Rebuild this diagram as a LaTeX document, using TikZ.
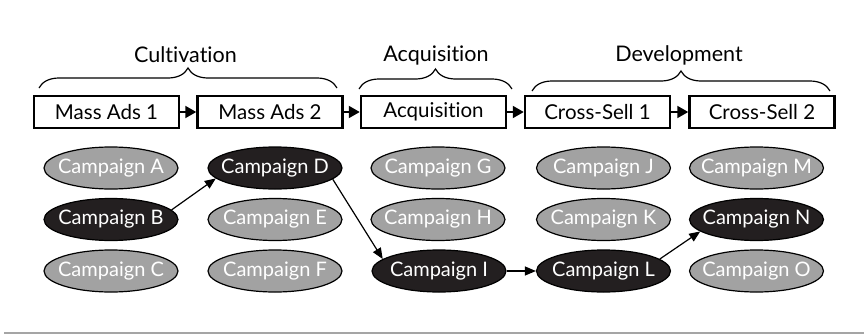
\documentclass[tikz,border=0pt]{standalone}
\usepackage{fontspec}
\setmainfont{Lato}[Ligatures=CommonOff]
\usetikzlibrary{arrows.meta,decorations.pathreplacing,shapes.geometric}

\definecolor{campgray}{HTML}{A2A2A2}
\definecolor{campdark}{HTML}{231F20}
\definecolor{rulegray}{HTML}{A5A5A5}

\tikzset{
  stagebox/.style={draw=black, line width=2.5pt, fill=white,
    minimum width=145pt, minimum height=32pt, inner sep=0pt,
    font=\fontsize{20.5}{25}\selectfont},
  camp/.style={ellipse, draw=black, line width=1.2pt,
    minimum width=134pt, minimum height=42pt,
    inner xsep=-20pt, inner ysep=0pt, text=white,
    font=\fontsize{20}{24}\selectfont},
  idle/.style={camp, fill=campgray},
  chosen/.style={camp, fill=campdark},
  phase/.style={font=\fontsize{21.5}{26}\selectfont},
  phasebrace/.style={decorate, decoration={brace, amplitude=20pt}, line width=1.2pt},
  stagearrow/.style={line width=2pt, -{Triangle[length=11pt, width=12pt]}},
  patharrow/.style={line width=1.2pt, -{Triangle[length=11pt, width=9pt]}}
}

\begin{document}
\begin{tikzpicture}[x=1pt, y=-1pt]
  \useasboundingbox (0,0) rectangle (868,335);

  % phase labels and braces
  \node[phase] (lcult) at (185.5,55) {Cultivation};
  \node[phase] (lacq)  at (436,55)   {Acquisition};
  \node[phase] (ldev)  at (679,55)   {Development};
  \draw[phasebrace] (39,88)  -- (337,88);
  \draw[phasebrace] (359,89) -- (512,89);
  \draw[phasebrace] (532,91) -- (830,91);

  % stage boxes
  \node[stagebox] (s1) at (106.5,112) {Mass Ads 1};
  \node[stagebox] (s2) at (270,112)   {Mass Ads 2};
  \node[stagebox] (s3) at (433.5,112) {Acquisition};
  \node[stagebox] (s4) at (597.5,112) {Cross-Sell 1};
  \node[stagebox] (s5) at (762,112)   {Cross-Sell 2};
  \draw[stagearrow] (s1) -- (s2);
  \draw[stagearrow] (s2) -- (s3);
  \draw[stagearrow] (s3) -- (s4);
  \draw[stagearrow] (s4) -- (s5);

  % campaigns
  \node[idle]   (cA) at (111,168)   {Campaign A};
  \node[chosen] (cB) at (111,219.5) {Campaign B};
  \node[idle]   (cC) at (111,271)   {Campaign C};
  \node[chosen] (cD) at (275,168)   {Campaign D};
  \node[idle]   (cE) at (275,219.5) {Campaign E};
  \node[idle]   (cF) at (275,271)   {Campaign F};
  \node[idle]   (cG) at (438,168)   {Campaign G};
  \node[idle]   (cH) at (438,219.5) {Campaign H};
  \node[chosen] (cI) at (439,271)   {Campaign I};
  \node[idle]   (cJ) at (603.5,168) {Campaign J};
  \node[idle]   (cK) at (603.5,219.5) {Campaign K};
  \node[chosen] (cL) at (603.5,271) {Campaign L};
  \node[idle]   (cM) at (756.5,168) {Campaign M};
  \node[chosen] (cN) at (756.5,219.5) {Campaign N};
  \node[idle]   (cO) at (756.5,271) {Campaign O};

  % chosen campaign path
  \draw[patharrow] (cB.9)   -- (cD.190);
  \draw[patharrow] (cD.349) -- (cI.168);
  \draw[patharrow] (cI.east) -- (cL.west);
  \draw[patharrow] (cL.12)  -- (cN.192);

  % bottom rule
  \draw[rulegray, line width=2pt] (4,333) -- (864,333);
\end{tikzpicture}
\end{document}
